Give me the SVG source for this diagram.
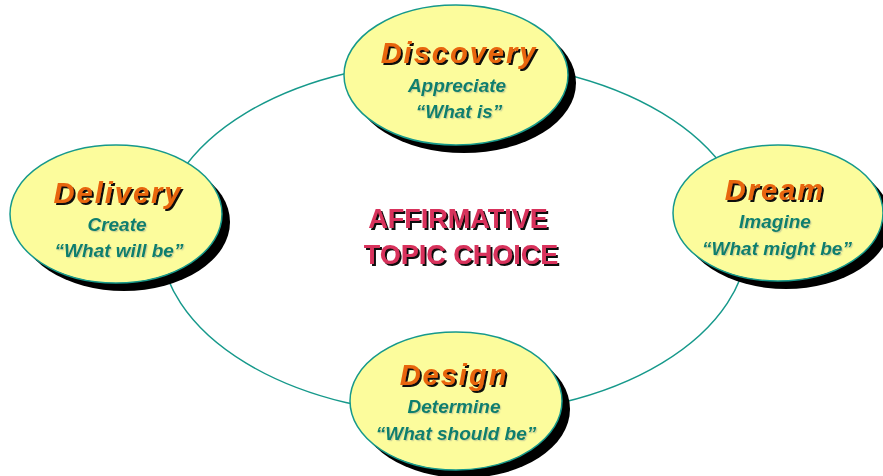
<svg xmlns="http://www.w3.org/2000/svg" width="883" height="476" viewBox="0 0 883 476">
  <defs>
    <filter id="hardShadow" x="-10%" y="-20%" width="130%" height="160%">
      <feDropShadow dx="2" dy="2" stdDeviation="0.3" flood-color="#111111" flood-opacity="1"/>
    </filter>
    <filter id="softShadow" x="-10%" y="-20%" width="130%" height="160%">
      <feDropShadow dx="1.2" dy="1.2" stdDeviation="0.4" flood-color="#8a9a8a" flood-opacity="0.4"/>
    </filter>
  </defs>
  <style>
    .cycle { fill: none; stroke: #16998B; stroke-width: 1.5; }
    .shadow { fill: #000000; }
    .bubble { fill: #FCFC9C; stroke: #16998B; stroke-width: 1.5; }
    .head { font-family: "Liberation Sans", Arial, sans-serif; font-weight: bold; font-style: italic; font-size: 29px; letter-spacing: 2px; text-anchor: middle; fill: #E8650C; filter: url(#hardShadow); }
    .sub { font-family: "Liberation Sans", Arial, sans-serif; font-weight: bold; font-style: italic; font-size: 19px; text-anchor: middle; fill: #0E7F6E; filter: url(#softShadow); }
    .title { font-family: "Liberation Sans", Arial, sans-serif; font-weight: bold; font-size: 27px; text-anchor: middle; fill: #D8335C; filter: url(#hardShadow); }
  </style>

  <rect width="883" height="476" fill="#FFFFFF"/>

  <!-- connector ring linking the four phases -->
  <g id="connectors">
    <ellipse class="cycle" cx="454" cy="238" rx="294" ry="177"/>
  </g>

  <!-- centre label -->
  <g id="topic">
    <text class="title" x="458" y="228">AFFIRMATIVE</text>
    <text class="title" x="461" y="264">TOPIC CHOICE</text>
  </g>

  <g id="discovery">
    <ellipse class="shadow" cx="464" cy="83" rx="112" ry="70"/>
    <ellipse class="bubble" cx="456" cy="75" rx="112" ry="70"/>
    <text class="head" x="459" y="63">Discovery</text>
    <text class="sub" x="457" y="92">Appreciate</text>
    <text class="sub" x="459" y="118">“What is”</text>
  </g>

  <g id="delivery">
    <ellipse class="shadow" cx="124" cy="222" rx="106" ry="69"/>
    <ellipse class="bubble" cx="116" cy="214" rx="106" ry="69"/>
    <text class="head" x="118" y="203">Delivery</text>
    <text class="sub" x="117" y="231">Create</text>
    <text class="sub" x="119" y="257">“What will be”</text>
  </g>

  <g id="dream">
    <ellipse class="shadow" cx="786" cy="221" rx="105" ry="68"/>
    <ellipse class="bubble" cx="778" cy="213" rx="105" ry="68"/>
    <text class="head" x="775" y="200">Dream</text>
    <text class="sub" x="775" y="228">Imagine</text>
    <text class="sub" x="777" y="255">“What might be”</text>
  </g>

  <g id="design">
    <ellipse class="shadow" cx="464" cy="409" rx="106" ry="69"/>
    <ellipse class="bubble" cx="456" cy="401" rx="106" ry="69"/>
    <text class="head" x="454" y="385">Design</text>
    <text class="sub" x="454" y="413">Determine</text>
    <text class="sub" x="456" y="440">“What should be”</text>
  </g>
</svg>
